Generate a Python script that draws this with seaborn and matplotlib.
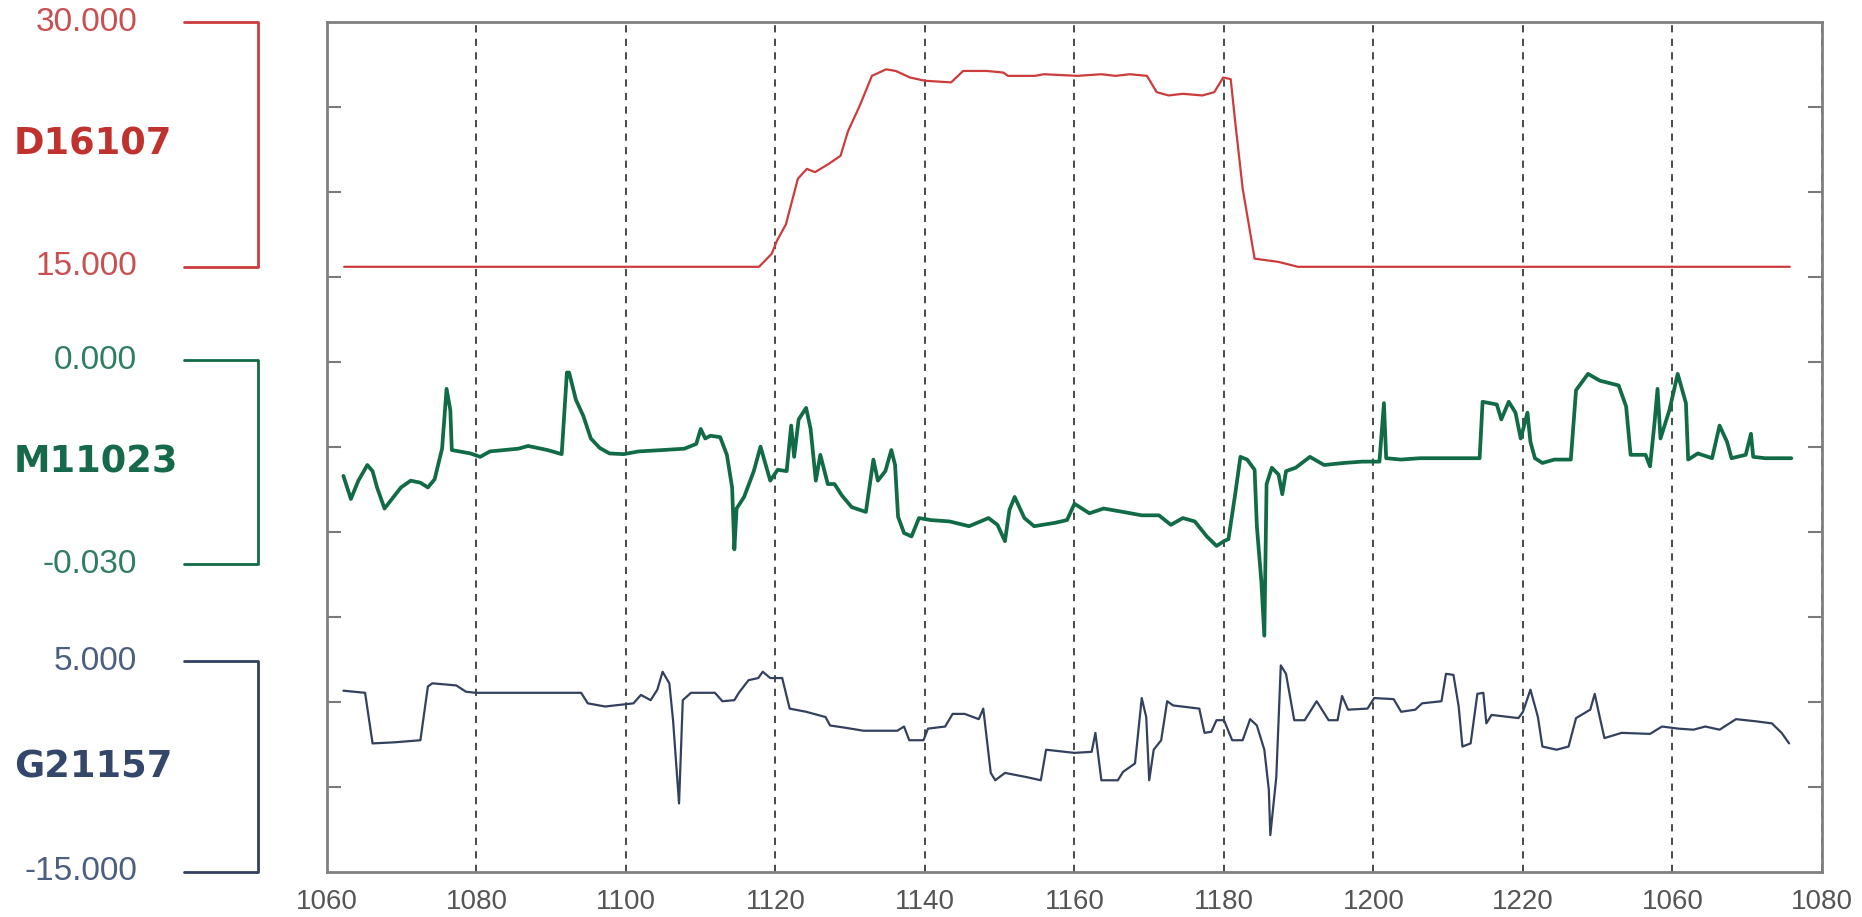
import numpy as np
import pandas as pd
import matplotlib
matplotlib.use("Agg")
import matplotlib.pyplot as plt
import matplotlib.transforms as mtransforms
import seaborn as sns

# x axis: real span is 1060..1260, but the last two labels repeat 1060/1080
x_ticks = [1060, 1080, 1100, 1120, 1140, 1160, 1180, 1200, 1220, 1240, 1260]
x_tick_labels = ["1060", "1080", "1100", "1120", "1140", "1160", "1180",
                 "1200", "1220", "1060", "1080"]

# D16107 (red, scale 15..30)
red_x = [1062.3, 1117.8, 1119.5, 1120.2, 1121.4, 1123.0, 1124.2, 1125.3, 1127.1,
         1128.7, 1129.7, 1131.3, 1132.9, 1134.8, 1136.1, 1138.0, 1140.0, 1143.5,
         1145.1, 1148.3, 1150.5, 1151.1, 1154.7, 1155.9, 1160.4, 1163.6, 1165.5,
         1167.4, 1169.7, 1171.0, 1172.6, 1174.5, 1177.1, 1178.7, 1179.9, 1180.9,
         1181.5, 1182.5, 1184.1, 1187.3, 1189.9, 1255.7]
red_y = [15.0, 15.0, 15.8, 16.6, 17.6, 20.4, 21.0, 20.8, 21.3,
         21.8, 23.3, 24.9, 26.7, 27.1, 27.0, 26.6, 26.4, 26.3,
         27.0, 27.0, 26.9, 26.7, 26.7, 26.8, 26.7, 26.8, 26.7,
         26.8, 26.7, 25.7, 25.5, 25.6, 25.5, 25.7, 26.6, 26.5,
         23.9, 19.8, 15.5, 15.3, 15.0, 15.0]

# M11023 (green, scale -0.030..0.000), values in thousandths
green_x = [1062.2, 1063.2, 1064.2, 1065.4, 1066.1, 1066.7, 1067.7, 1068.7, 1069.9,
           1071.2, 1072.5, 1073.5, 1074.4, 1075.4, 1076.0, 1076.5, 1076.7, 1079.2,
           1080.5, 1081.8, 1085.6, 1086.9, 1089.5, 1091.4, 1092.1, 1092.4, 1093.3,
           1094.3, 1095.3, 1096.5, 1097.8, 1099.7, 1101.7, 1104.9, 1107.8, 1109.4,
           1110.0, 1110.6, 1111.3, 1112.6, 1113.5, 1114.2, 1114.5, 1114.8, 1115.8,
           1117.1, 1118.0, 1118.7, 1119.3, 1120.3, 1121.5, 1122.1, 1122.5, 1123.1,
           1124.1, 1124.7, 1125.4, 1126.0, 1127.0, 1127.9, 1128.9, 1130.2, 1132.1,
           1133.1, 1133.7, 1134.7, 1135.5, 1136.0, 1136.4, 1137.2, 1138.2, 1139.2,
           1140.8, 1143.3, 1145.9, 1148.5, 1149.7, 1150.7, 1151.3, 1152.0, 1153.3,
           1154.6, 1157.4, 1159.0, 1160.0, 1162.0, 1163.9, 1166.5, 1169.0, 1171.3,
           1172.9, 1174.5, 1176.1, 1177.7, 1179.0, 1180.0, 1180.6, 1181.5, 1182.2,
           1183.1, 1184.1, 1184.4, 1185.0, 1185.4, 1185.7, 1186.4, 1187.3, 1187.8,
           1188.3, 1189.6, 1191.5, 1193.4, 1196.0, 1198.5, 1200.8, 1201.4, 1201.7,
           1203.7, 1206.2, 1208.8, 1211.4, 1214.2, 1214.6, 1216.5, 1217.1, 1218.1,
           1219.0, 1219.7, 1220.6, 1221.0, 1221.6, 1222.6, 1224.2, 1226.4, 1227.1,
           1228.7, 1230.3, 1232.8, 1233.8, 1234.4, 1236.4, 1237.0, 1237.6, 1238.0,
           1238.4, 1239.6, 1240.7, 1241.8, 1242.1, 1243.4, 1245.3, 1246.3, 1247.3,
           1247.9, 1249.8, 1250.5, 1250.8, 1252.4, 1255.9]
green_y = [-17.0, -20.4, -17.7, -15.4, -16.3, -18.7, -21.8, -20.4, -18.7,
           -17.7, -18.0, -18.7, -17.5, -13.0, -4.2, -7.3, -13.2, -13.7,
           -14.2, -13.4, -13.0, -12.6, -13.2, -13.8, -1.8, -1.8, -5.8,
           -8.2, -11.5, -12.9, -13.7, -13.8, -13.4, -13.2, -13.0, -12.3,
           -10.1, -11.5, -11.1, -11.3, -13.9, -18.7, -27.8, -21.8, -20.1,
           -16.3, -12.7, -15.4, -17.7, -16.1, -16.3, -9.6, -14.2, -8.7,
           -7.0, -10.1, -17.7, -13.9, -18.2, -18.2, -19.9, -21.6, -22.3,
           -14.6, -17.7, -16.3, -13.2, -15.4, -23.0, -25.4, -25.9, -23.2,
           -23.5, -23.7, -24.4, -23.2, -24.2, -26.6, -22.0, -20.1, -23.2,
           -24.4, -23.9, -23.5, -21.1, -22.5, -21.8, -22.3, -22.8, -22.8,
           -24.2, -23.2, -23.7, -25.9, -27.3, -26.6, -26.3, -19.7, -14.2,
           -14.6, -16.1, -24.4, -32.5, -40.5, -18.2, -15.8, -16.8, -19.7,
           -16.3, -15.8, -14.2, -15.4, -15.1, -14.9, -14.9, -6.3, -14.4,
           -14.6, -14.4, -14.4, -14.4, -14.4, -6.1, -6.5, -8.7, -6.1,
           -7.7, -11.5, -7.7, -12.0, -14.4, -15.1, -14.6, -14.6, -4.4,
           -2.0, -3.0, -3.7, -6.8, -13.9, -13.9, -15.6, -9.2, -4.2,
           -11.5, -7.3, -2.0, -6.3, -14.6, -13.7, -14.4, -9.6, -12.0,
           -14.4, -13.9, -10.8, -14.2, -14.4, -14.4]

# G21157 (blue, scale -15..5)
blue_x = [1062.2, 1065.1, 1066.1, 1069.0, 1072.5, 1073.5, 1074.1, 1077.3, 1078.6,
          1079.9, 1094.0, 1094.9, 1097.2, 1101.0, 1102.0, 1103.3, 1104.2, 1104.9,
          1105.8, 1106.3, 1107.1, 1107.6, 1108.7, 1111.9, 1112.9, 1114.5, 1115.1,
          1116.4, 1117.7, 1118.3, 1119.3, 1120.9, 1121.9, 1124.1, 1126.7, 1127.3,
          1129.2, 1131.8, 1136.3, 1137.2, 1137.9, 1139.8, 1140.4, 1142.7, 1143.7,
          1145.3, 1147.2, 1147.8, 1148.8, 1149.4, 1150.7, 1153.6, 1155.5, 1156.2,
          1160.0, 1162.3, 1162.8, 1163.6, 1165.8, 1166.5, 1168.1, 1169.0, 1169.6,
          1170.0, 1170.6, 1171.6, 1172.4, 1173.2, 1176.7, 1177.4, 1178.3, 1179.0,
          1180.0, 1181.1, 1182.5, 1183.5, 1184.4, 1185.4, 1186.0, 1186.2, 1187.0,
          1187.6, 1188.3, 1189.4, 1190.8, 1192.4, 1194.0, 1195.2, 1195.8, 1196.6,
          1199.2, 1200.1, 1202.7, 1203.7, 1205.6, 1206.5, 1209.1, 1209.7, 1210.7,
          1211.4, 1211.9, 1213.0, 1213.9, 1214.7, 1215.1, 1215.8, 1219.4, 1220.0,
          1221.0, 1222.0, 1222.6, 1224.5, 1226.1, 1227.1, 1229.0, 1229.6, 1230.3,
          1230.9, 1233.2, 1237.0, 1238.6, 1240.8, 1242.8, 1244.4, 1246.3, 1248.5,
          1251.1, 1253.3, 1254.6, 1255.6]
blue_y = [2.2, 2.0, -2.8, -2.7, -2.5, 2.6, 2.9, 2.7, 2.1,
          2.0, 2.0, 1.0, 0.7, 1.0, 1.8, 1.3, 2.3, 4.0,
          2.9, -0.6, -8.5, 1.3, 2.0, 2.0, 1.2, 1.3, 2.0,
          3.2, 3.4, 4.0, 3.4, 3.4, 0.5, 0.2, -0.3, -1.1,
          -1.3, -1.6, -1.6, -1.2, -2.5, -2.5, -1.4, -1.2, 0.0,
          0.0, -0.5, 0.5, -5.6, -6.3, -5.6, -6.0, -6.3, -3.4,
          -3.7, -3.6, -1.8, -6.3, -6.3, -5.5, -4.7, 1.5, -0.3,
          -6.3, -3.4, -2.5, 1.2, 0.8, 0.5, -1.8, -1.7, -0.6,
          -0.6, -2.5, -2.5, -0.5, -1.1, -3.4, -7.2, -11.5, -6.0,
          4.6, 3.8, -0.6, -0.6, 1.2, -0.6, -0.6, 1.7, 0.4,
          0.5, 1.5, 1.4, 0.2, 0.4, 1.0, 1.2, 3.8, 3.7,
          0.7, -3.1, -2.8, 1.9, 2.0, -0.9, -0.1, -0.4, 0.2,
          2.3, -0.3, -3.1, -3.4, -3.1, -0.4, 0.4, 1.9, -0.4,
          -2.3, -1.8, -1.9, -1.2, -1.4, -1.5, -1.2, -1.5, -0.5,
          -0.7, -0.9, -1.8, -2.8]

# each series gets its own band of the shared 0..10 axis
series = [
    # name, x, y, scale low, scale high, band low, band high, line colour, name colour, number colour, labels, lw
    ("D16107", red_x, red_y, 15.0, 30.0, 7.12, 10.0, "#cc3c3c", "#c0322e", "#c85050", ("15.000", "30.000"), 1.6),
    ("M11023", green_x, [v / 1000 for v in green_y], -0.030, 0.0, 3.62, 6.02, "#126b47", "#16694a", "#2f7d64", ("-0.030", "0.000"), 2.7),
    ("G21157", blue_x, blue_y, -15.0, 5.0, 0.0, 2.48, "#33415f", "#34476a", "#4b5f80", ("-15.000", "5.000"), 1.6),
]

sns.set_style("white")
plt.rcParams["font.family"] = ["DejaVu Sans"]

fig = plt.figure(figsize=(18.62, 9.17), dpi=100)
ax = fig.add_axes([0.1756, 0.0491, 0.8029, 0.9269])

for name, xs, ys, lo, hi, b0, b1, lc, tc, nc, labels, lw in series:
    df = pd.DataFrame({"x": xs, "val": ys})
    df["pos"] = b0 + (df["val"] - lo) / (hi - lo) * (b1 - b0)
    sns.lineplot(data=df, x="x", y="pos", ax=ax, color=lc, linewidth=lw,
                 estimator=None, sort=False)

ax.set_xlim(1060, 1260)
ax.set_ylim(0, 10)
ax.set_xticks(x_ticks)
ax.set_xticklabels(x_tick_labels)
ax.set_yticks(range(1, 10))
ax.set_xlabel("")
ax.set_ylabel("")
ax.grid(axis="x", linestyle=(0, (4, 3.5)), color="#3a3a3a", linewidth=1.3)
ax.tick_params(axis="y", direction="in", length=10, width=1.5, color="#7a7a7a",
               left=True, right=True, labelleft=False)
ax.tick_params(axis="x", length=0, pad=12, labelsize=20, labelcolor="#555555")
for lab in ax.get_xticklabels():
    lab.set_family("Liberation Sans")
for sp in ax.spines.values():
    sp.set_color("#808080")
    sp.set_linewidth(2)

# scale brackets and labels on the left, outside the plot
trans = mtransforms.blended_transform_factory(fig.transFigure, ax.transData)
bx0, bx1 = 184 / 1862, 258 / 1862
for name, xs, ys, lo, hi, b0, b1, lc, tc, nc, labels, lw in series:
    ax.plot([bx0, bx1, bx1, bx0], [b1, b1, b0, b0], transform=trans,
            color=lc, linewidth=2, clip_on=False)
    ax.text(137 / 1862, b1, labels[1], transform=trans, ha="right", va="center",
            fontsize=24, color=nc, family="Liberation Sans")
    ax.text(137 / 1862, b0, labels[0], transform=trans, ha="right", va="center",
            fontsize=24, color=nc, family="Liberation Sans")
    ax.text(14 / 1862, (b0 + b1) / 2, name, transform=trans, ha="left", va="center",
            fontsize=26.5, fontweight="bold", color=tc)

fig.savefig("out.png", dpi=100, facecolor="white")
